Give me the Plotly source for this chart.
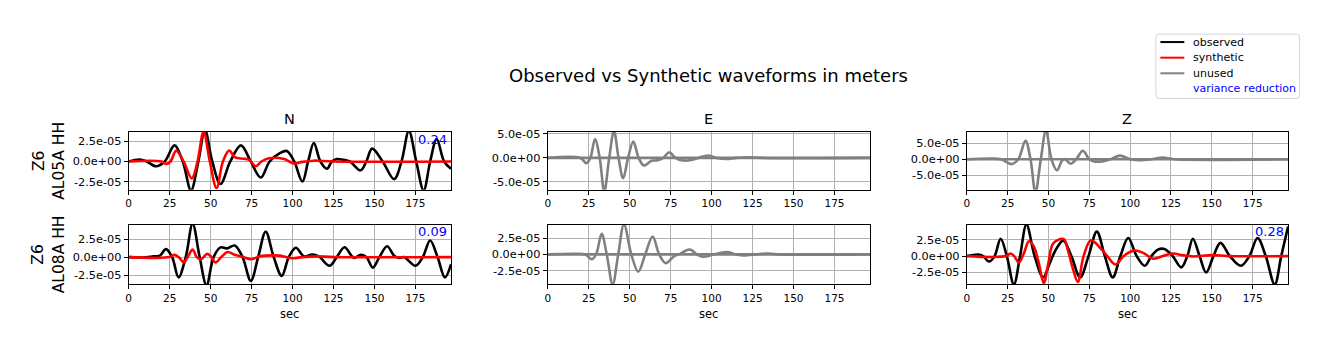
import plotly.graph_objects as go
from plotly.subplots import make_subplots

W, H = 1329, 351
S = 1e-5  # values below are in units of 1e-5 m

# ---- data (time in sec, amplitude in 1e-5 m) ----
n1_obs_t = [0, 6.5, 11, 16.6, 22, 28, 33, 38, 42.5, 46.5, 51, 56, 62, 68.5, 74.5, 80.6, 86, 92, 96.5, 101, 106, 109.5, 113, 117, 121, 124, 127, 131, 135, 141.5, 145, 148.6, 155, 162, 166.5, 171, 175.5, 180, 184, 188, 192.5, 196.7]
n1_obs_v = [0, 0.25, 0, -0.6, 0, 2.0, 0, -3.6, 0, 3.9, 0, -2.8, 0, 2.0, 0, -2.0, 0, 1.0, 1.3, 0, -2.5, 0, 2.3, 0, -0.9, 0, 0.3, 0.2, 0, -1.1, 0, 1.6, 0, -2.2, 0, 3.8, 0, -3.6, 0, 2.8, 0, -0.9]
n1_syn_t = [0, 20, 23, 25.5, 29, 33.5, 38.5, 42, 45.7, 49.5, 53.6, 57.5, 61.3, 65, 70, 73.5, 77.5, 81, 85.6, 94.8, 98, 101, 106, 113, 125, 196.7]
n1_syn_v = [0, 0, -0.3, 0, 1.35, 0, -2.1, 0, 3.7, 0, -3.3, 0, 1.35, 0.5, 0.35, 0.2, -0.6, 0, 0.4, 0.3, 0, -0.25, -0.05, 0.1, 0, 0]

n2_obs_t = [0, 8, 15, 19, 22.7, 26.5, 30.4, 34.8, 39, 43.3, 47.5, 51.8, 56, 60, 64.7, 69.5, 74.5, 79, 83.6, 88.5, 93.4, 97.7, 102, 107, 112, 116, 122.6, 127, 131.7, 137.4, 141.5, 145, 149, 153, 157.7, 162, 165, 168, 175, 179.5, 184, 188.5, 193, 196.7]
n2_obs_v = [0, -0.05, 0.1, 0.2, 1.1, 0, -2.8, 0, 4.6, 0, -3.9, 0, 1.35, 1.2, 1.6, 0, -3.3, 0, 3.5, 0, -2.6, 0, 1.3, 0.1, 0.35, 0.1, -1.2, 0, 1.35, -0.1, 0.3, 0, -1.45, 0, 1.5, 0.2, -0.1, 0, -1.2, 0, 2.3, 0, -2.8, -1.0]
n2_syn_t = [0, 25, 27.8, 30.5, 33.5, 36, 39, 41.5, 44, 48, 50.5, 53, 56.5, 60.3, 65, 70, 74.5, 80, 83.6, 92, 96, 100, 106, 115, 125, 196.7]
n2_syn_v = [0, 0, 0.3, 0, -0.7, 0, 1.05, 0, -0.3, 0.45, 0, -0.75, 0, 0.7, 0.3, 0, -0.3, 0.1, 0.2, 0.2, 0, -0.15, 0, 0.1, 0, 0]

e1_obs_t = [0, 20, 23.5, 26, 28.8, 31.7, 34.5, 37.5, 40.4, 43.2, 46, 49, 52.2, 55.5, 58.7, 63.3, 67, 70.5, 74, 78, 81.6, 87.7, 92, 97.8, 103, 109, 115, 122, 130, 196.7]
e1_obs_v = [0, 0, -1.1, 0, 3.9, 0, -7.0, 0, 5.6, 0, -4.2, 0, 3.4, 0, -1.6, -0.6, -0.5, 0, 1.15, 0, -0.5, -0.45, 0, 0.5, 0, -0.2, 0, 0.15, 0, 0]
e1_syn_t = [0, 196.7]
e1_syn_v = [0, 0]

e2_obs_t = [0, 16, 23, 26.8, 29.5, 32.9, 36, 39.6, 43, 46.5, 51, 55.2, 59.5, 64, 68, 72, 77, 80, 86.7, 91, 94.8, 100, 104, 110, 115, 120, 127, 134, 140, 196.7]
e2_obs_v = [0, 0.1, 0, -0.75, 0, 3.15, 0, -4.6, 0, 4.6, 0, -2.65, 0, 2.75, 0, -1.35, -0.3, 0, 0.75, 0, -0.35, -0.1, 0.15, 0.35, 0, -0.15, 0, 0.15, 0, 0]
e2_syn_t = [0, 196.7]
e2_syn_v = [0, 0]

z1_obs_t = [0, 15, 21, 27.4, 31.5, 35.9, 39, 42, 45.3, 48.5, 51.8, 55.2, 58.5, 60.3, 63.5, 67, 71, 75, 78, 83.6, 88, 93.8, 100, 107, 113, 120, 127, 196.7]
z1_obs_v = [0, 0.2, 0, -1.55, 0, 5.8, 0, -10.5, 0, 9.2, 0, -3.5, -0.3, 0, -1.45, 0, 2.7, 0, -0.7, -0.6, 0, 1.15, 0, -0.3, 0, 0.5, 0, 0]
z1_syn_t = [0, 196.7]
z1_syn_v = [0, 0]

z2_obs_t = [0, 7, 10, 13.6, 17, 20.7, 24.5, 28.8, 32.6, 36.5, 41.5, 46.7, 50.5, 54, 59, 64, 69.4, 74.5, 79.6, 84.5, 89.3, 94, 98.8, 104, 109, 113, 117, 121, 126, 131.3, 135, 138.4, 142.5, 146.5, 151, 155.3, 161, 167.8, 173, 178, 183, 188.5, 192.5, 196.7]
z2_obs_v = [0, 0.25, 0, -0.85, 0, 2.7, 0, -4.4, 0, 4.9, 0, -3.3, -1.3, 0.75, 2.4, 0, -3.3, 0, 3.8, 0, -3.3, 0, 2.8, 0, -1.5, 0, 1.0, 1.1, 0, -1.75, 0, 2.7, 0, -2.55, 0, 2.05, 0, -1.5, 0, 2.8, 0, -4.4, 0, 4.6]
z2_syn_t = [0, 24, 26.8, 29, 31.9, 35, 38, 41, 44, 47.1, 50, 53, 59.3, 62, 65, 68, 71.5, 76, 81.6, 86, 91, 96, 102, 108, 111, 114, 120, 126, 132, 138, 150.6, 160, 196.7]
z2_syn_v = [0, 0, 0.4, 0, -1.0, 0.5, 2.3, 1.5, -1.0, -4.2, -1.0, 2.0, 2.65, 0.8, -2.0, -4.0, 0, 2.45, 1.3, 0, -1.3, 0, 0.85, 0.5, 0, -0.4, 0, 0.4, 0.15, -0.05, 0.15, 0, 0]

components = ["N", "E", "Z"]
stations = ["Z6<br>AL05A HH", "Z6<br>AL08A HH"]
variance_reduction = {(1, 1): "0.24", (2, 1): "0.09", (2, 3): "0.28"}
legend_labels = ["observed", "synthetic", "unused", "variance reduction"]
legend_colors = ["black", "red", "#808080", None]
used = {(1, 1): True, (1, 2): False, (1, 3): False,
        (2, 1): True, (2, 2): False, (2, 3): True}
panels = {
    (1, 1): (n1_obs_t, n1_obs_v, n1_syn_t, n1_syn_v),
    (1, 2): (e1_obs_t, e1_obs_v, e1_syn_t, e1_syn_v),
    (1, 3): (z1_obs_t, z1_obs_v, z1_syn_t, z1_syn_v),
    (2, 1): (n2_obs_t, n2_obs_v, n2_syn_t, n2_syn_v),
    (2, 2): (e2_obs_t, e2_obs_v, e2_syn_t, e2_syn_v),
    (2, 3): (z2_obs_t, z2_obs_v, z2_syn_t, z2_syn_v),
}
y_ranges = {(1, 1): [-3.53e-5, 3.69e-5], (1, 2): [-6.65e-5, 5.43e-5], (1, 3): [-9.69e-5, 8.66e-5],
            (2, 1): [-3.73e-5, 4.47e-5], (2, 2): [-4.55e-5, 4.55e-5], (2, 3): [-4.34e-5, 4.86e-5]}
y_ticks = {(1, 1): [-2.5e-5, 0, 2.5e-5], (1, 2): [-5e-5, 0, 5e-5], (1, 3): [-5e-5, 0, 5e-5],
           (2, 1): [-2.5e-5, 0, 2.5e-5], (2, 2): [-2.5e-5, 0, 2.5e-5], (2, 3): [-2.5e-5, 0, 2.5e-5]}
x_range = [0, 196.7]
x_ticks = [0, 25, 50, 75, 100, 125, 150, 175]

FONT = "DejaVu Sans"
col_px = [(126, 449), (546, 869), (966, 1288)]
row_px = [(129.3, 188.0), (223.3, 283.3)]

fig = make_subplots(rows=2, cols=3)

for (r, c), (ot, ov, st, sv) in panels.items():
    oc = "black" if used[(r, c)] else "#808080"
    sc = "red" if used[(r, c)] else "#808080"
    fig.add_trace(go.Scatter(x=ot, y=[v * S for v in ov], mode="lines",
                             line=dict(color=oc, width=2.6, shape="spline", smoothing=1.0),
                             showlegend=False, hoverinfo="skip"), row=r, col=c)
    fig.add_trace(go.Scatter(x=st, y=[v * S for v in sv], mode="lines",
                             line=dict(color=sc, width=2.6, shape="spline", smoothing=1.0),
                             showlegend=False, hoverinfo="skip"), row=r, col=c)

annotations = []
shapes = []
for r in (1, 2):
    for c in (1, 2, 3):
        idx = (r - 1) * 3 + c
        sfx = "" if idx == 1 else str(idx)
        xa = "xaxis" + sfx
        ya = "yaxis" + sfx
        x0, x1 = col_px[c - 1]
        y0, y1 = row_px[r - 1]
        fig.layout[xa].update(domain=[x0 / W, x1 / W], range=x_range, tickvals=x_ticks,
                              ticktext=[str(t) for t in x_ticks],
                              showline=True, mirror=True, linecolor="black", linewidth=1,
                              showgrid=True, gridcolor="#b0b0b0", gridwidth=1,
                              ticks="outside", ticklen=4, tickcolor="black",
                              tickfont=dict(size=10.5, family=FONT, color="black"),
                              zeroline=False)
        yt = y_ticks[(r, c)]
        fig.layout[ya].update(domain=[1 - y1 / H, 1 - y0 / H], range=y_ranges[(r, c)],
                              tickvals=yt, ticktext=["%.1e" % t for t in yt],
                              showline=True, mirror=True, linecolor="black", linewidth=1,
                              showgrid=True, gridcolor="#b0b0b0", gridwidth=1,
                              ticks="outside", ticklen=4, tickcolor="black",
                              tickfont=dict(size=11.3, family=FONT, color="black"),
                              zeroline=False)
        if (r, c) in variance_reduction:
            annotations.append(dict(text=variance_reduction[(r, c)],
                                    xref=f"x{sfx} domain", yref=f"y{sfx} domain",
                                    x=0.995, y=1.04, xanchor="right", yanchor="top",
                                    showarrow=False,
                                    font=dict(size=13, family=FONT, color="blue")))

# column titles and x labels
for c, name in enumerate(components):
    x0, x1 = col_px[c]
    annotations.append(dict(text=name, xref="paper", yref="paper",
                            x=(x0 + x1) / 2 / W, y=1 - 116 / H, xanchor="center", yanchor="middle",
                            showarrow=False, font=dict(size=14.5, family=FONT, color="black")))
    annotations.append(dict(text="sec", xref="paper", yref="paper",
                            x=(x0 + x1) / 2 / W, y=1 - 314 / H, xanchor="center", yanchor="middle",
                            showarrow=False, font=dict(size=11.5, family=FONT, color="black")))
# row labels
for r, st in enumerate(stations):
    y0, y1 = row_px[r]
    annotations.append(dict(text=st, xref="paper", yref="paper",
                            x=46 / W, y=1 - (y0 + y1) / 2 / H, xanchor="center", yanchor="middle",
                            textangle=-90, showarrow=False,
                            font=dict(size=15.5, family=FONT, color="black")))
# suptitle
annotations.append(dict(text="Observed vs Synthetic waveforms in meters", xref="paper", yref="paper",
                        x=707 / W, y=1 - 72 / H, xanchor="center", yanchor="middle",
                        showarrow=False, font=dict(size=18, family=FONT, color="black")))

# manual legend (matplotlib-style box)
bx0, bx1, by0, by1, rad = 1155.5, 1299.5, 30.5, 95.5, 3
def px(x):
    return x / W
def py(y):
    return 1 - y / H
path = (f"M {px(bx0 + rad)},{py(by0)} L {px(bx1 - rad)},{py(by0)} "
        f"Q {px(bx1)},{py(by0)} {px(bx1)},{py(by0 + rad)} L {px(bx1)},{py(by1 - rad)} "
        f"Q {px(bx1)},{py(by1)} {px(bx1 - rad)},{py(by1)} L {px(bx0 + rad)},{py(by1)} "
        f"Q {px(bx0)},{py(by1)} {px(bx0)},{py(by1 - rad)} L {px(bx0)},{py(by0 + rad)} "
        f"Q {px(bx0)},{py(by0)} {px(bx0 + rad)},{py(by0)} Z")
shapes.append(dict(type="path", path=path, xref="paper", yref="paper",
                   line=dict(color="#d5d5d5", width=1), fillcolor="rgba(255,255,255,0.8)", layer="above"))
for i, (lab, col) in enumerate(zip(legend_labels, legend_colors)):
    yy = 38.5 + i * 15.8
    if col is not None:
        shapes.append(dict(type="line", xref="paper", yref="paper",
                           x0=px(1160), x1=px(1184), y0=py(yy), y1=py(yy),
                           line=dict(color=col, width=2), layer="above"))
    annotations.append(dict(text=lab, xref="paper", yref="paper", x=px(1191), y=py(yy),
                            xanchor="left", yanchor="middle", showarrow=False,
                            font=dict(size=11, family=FONT, color=("blue" if col is None else "black"))))

fig.update_layout(width=W, height=H, autosize=False,
                  margin=dict(l=0, r=0, t=0, b=0),
                  paper_bgcolor="white", plot_bgcolor="white",
                  font=dict(family=FONT, color="black"),
                  annotations=annotations, shapes=shapes,
                  showlegend=False)

fig.write_html("out.html")
